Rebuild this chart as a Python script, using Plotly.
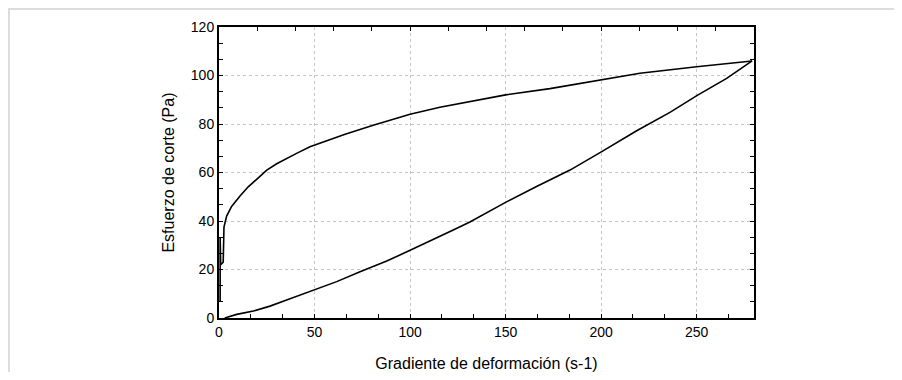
import plotly.graph_objects as go

# Curva ascendente (rama inferior)
gamma_up = [3, 6, 9.3, 18, 26.7, 35.4, 44.1, 50.2, 61.6, 73.8, 87.8, 100.3, 113.9,
            122.6, 131.3, 150.2, 166.2, 183.7, 200.3, 218.6, 236, 250.3, 265.7, 279]
tau_up = [0, 0.6, 1.5, 2.9, 4.9, 7.4, 9.9, 11.5, 15, 19.1, 23.5, 28, 32.9,
          36.3, 39.6, 47.8, 54.2, 61, 68.6, 77.2, 84.8, 91.8, 98.8, 106]

# Curva descendente (rama superior)
gamma_down = [0.6, 0.6, 0.9, 2.2, 2.3, 2.6, 4.0, 6.6, 11, 15.3, 19.7, 25, 30.2, 35.4,
              40.6, 47.6, 56.4, 66, 80.7, 100, 115.6, 133, 150, 173.2, 200.3, 220.3, 250, 279]
tau_down = [7, 33, 22, 23, 33, 37.5, 42, 46, 50.3, 54.1, 57.2, 61, 63.6, 65.9,
            67.9, 70.6, 73.2, 75.8, 79.5, 84, 86.9, 89.5, 92, 94.6, 98.3, 100.9, 103.6, 106]

x_ticks = [0, 50, 100, 150, 200, 250]
y_ticks = [0, 20, 40, 60, 80, 100, 120]
x_title = "Gradiente de deformación (s-1)"
y_title = "Esfuerzo de corte (Pa)"

FONT = "Liberation Sans, Arial, sans-serif"

fig = go.Figure()
fig.add_trace(go.Scatter(x=gamma_up, y=tau_up, mode="lines",
                         line=dict(color="black", width=1.6), showlegend=False))
fig.add_trace(go.Scatter(x=gamma_down, y=tau_down, mode="lines",
                         line=dict(color="black", width=1.6), showlegend=False))
# invisible trace to activate top/right axes
fig.add_trace(go.Scatter(x=[None], y=[None], xaxis="x2", yaxis="y2", showlegend=False))

XR = [0, 280]
YR = [0, 120]

# page body has an 8px margin; figure is sized/offset to compensate
W, H = 886, 364
L, T = 211, 19
PW, PH = 535, 291

fig.update_layout(
    width=W, height=H,
    margin=dict(l=L, r=W - L - PW, t=T, b=H - T - PH),
    paper_bgcolor="white", plot_bgcolor="white",
    font=dict(family=FONT, size=14, color="black"),
    xaxis=dict(
        range=XR, tickvals=x_ticks, ticktext=[str(v) for v in x_ticks],
        showline=True, linecolor="black", linewidth=2,
        ticks="inside", ticklen=4, tickwidth=1, tickcolor="black",
        minor=dict(dtick=50 / 3, tick0=0, ticks="inside", ticklen=4, tickwidth=1,
                   tickcolor="black", showgrid=False),
        showgrid=True, gridcolor="#c4c4c4", griddash="dot", gridwidth=1,
        zeroline=False, automargin=False,
        title=dict(text=x_title, font=dict(size=16), standoff=22),
        tickfont=dict(size=14),
    ),
    yaxis=dict(
        range=YR, tickvals=y_ticks, ticktext=[str(v) for v in y_ticks],
        showline=True, linecolor="black", linewidth=2,
        ticks="inside", ticklen=4, tickwidth=1, tickcolor="black",
        minor=dict(dtick=20 / 3, tick0=0, ticks="inside", ticklen=4, tickwidth=1,
                   tickcolor="black", showgrid=False),
        showgrid=True, gridcolor="#c4c4c4", griddash="dot", gridwidth=1,
        zeroline=False, automargin=False,
        title=dict(text=y_title, font=dict(size=16), standoff=12),
        tickfont=dict(size=14),
    ),
    xaxis2=dict(
        range=XR, overlaying="x", side="top", anchor="y",
        dtick=20, tick0=0, showticklabels=False,
        showline=True, linecolor="black", linewidth=2,
        ticks="inside", ticklen=4, tickwidth=1, tickcolor="black",
        showgrid=False, zeroline=False, automargin=False,
    ),
    yaxis2=dict(
        range=YR, overlaying="y", side="right", anchor="x",
        dtick=20 / 3, tick0=0, showticklabels=False,
        showline=True, linecolor="black", linewidth=2,
        ticks="inside", ticklen=4, tickwidth=1, tickcolor="black",
        showgrid=False, zeroline=False, automargin=False,
    ),
)

# light page frame (left and top), at the figure's edge
def fx(px):
    return (px - L) / PW
def fy(py):
    return (T + PH - py) / PH

fig.add_shape(type="line", xref="paper", yref="paper",
              x0=fx(1), x1=fx(1), y0=fy(0), y1=fy(H),
              line=dict(color="#dcdcdc", width=2), layer="below")
fig.add_shape(type="line", xref="paper", yref="paper",
              x0=fx(0), x1=fx(W), y0=fy(1), y1=fy(1),
              line=dict(color="#dcdcdc", width=2), layer="below")

fig.write_html("out.html")
